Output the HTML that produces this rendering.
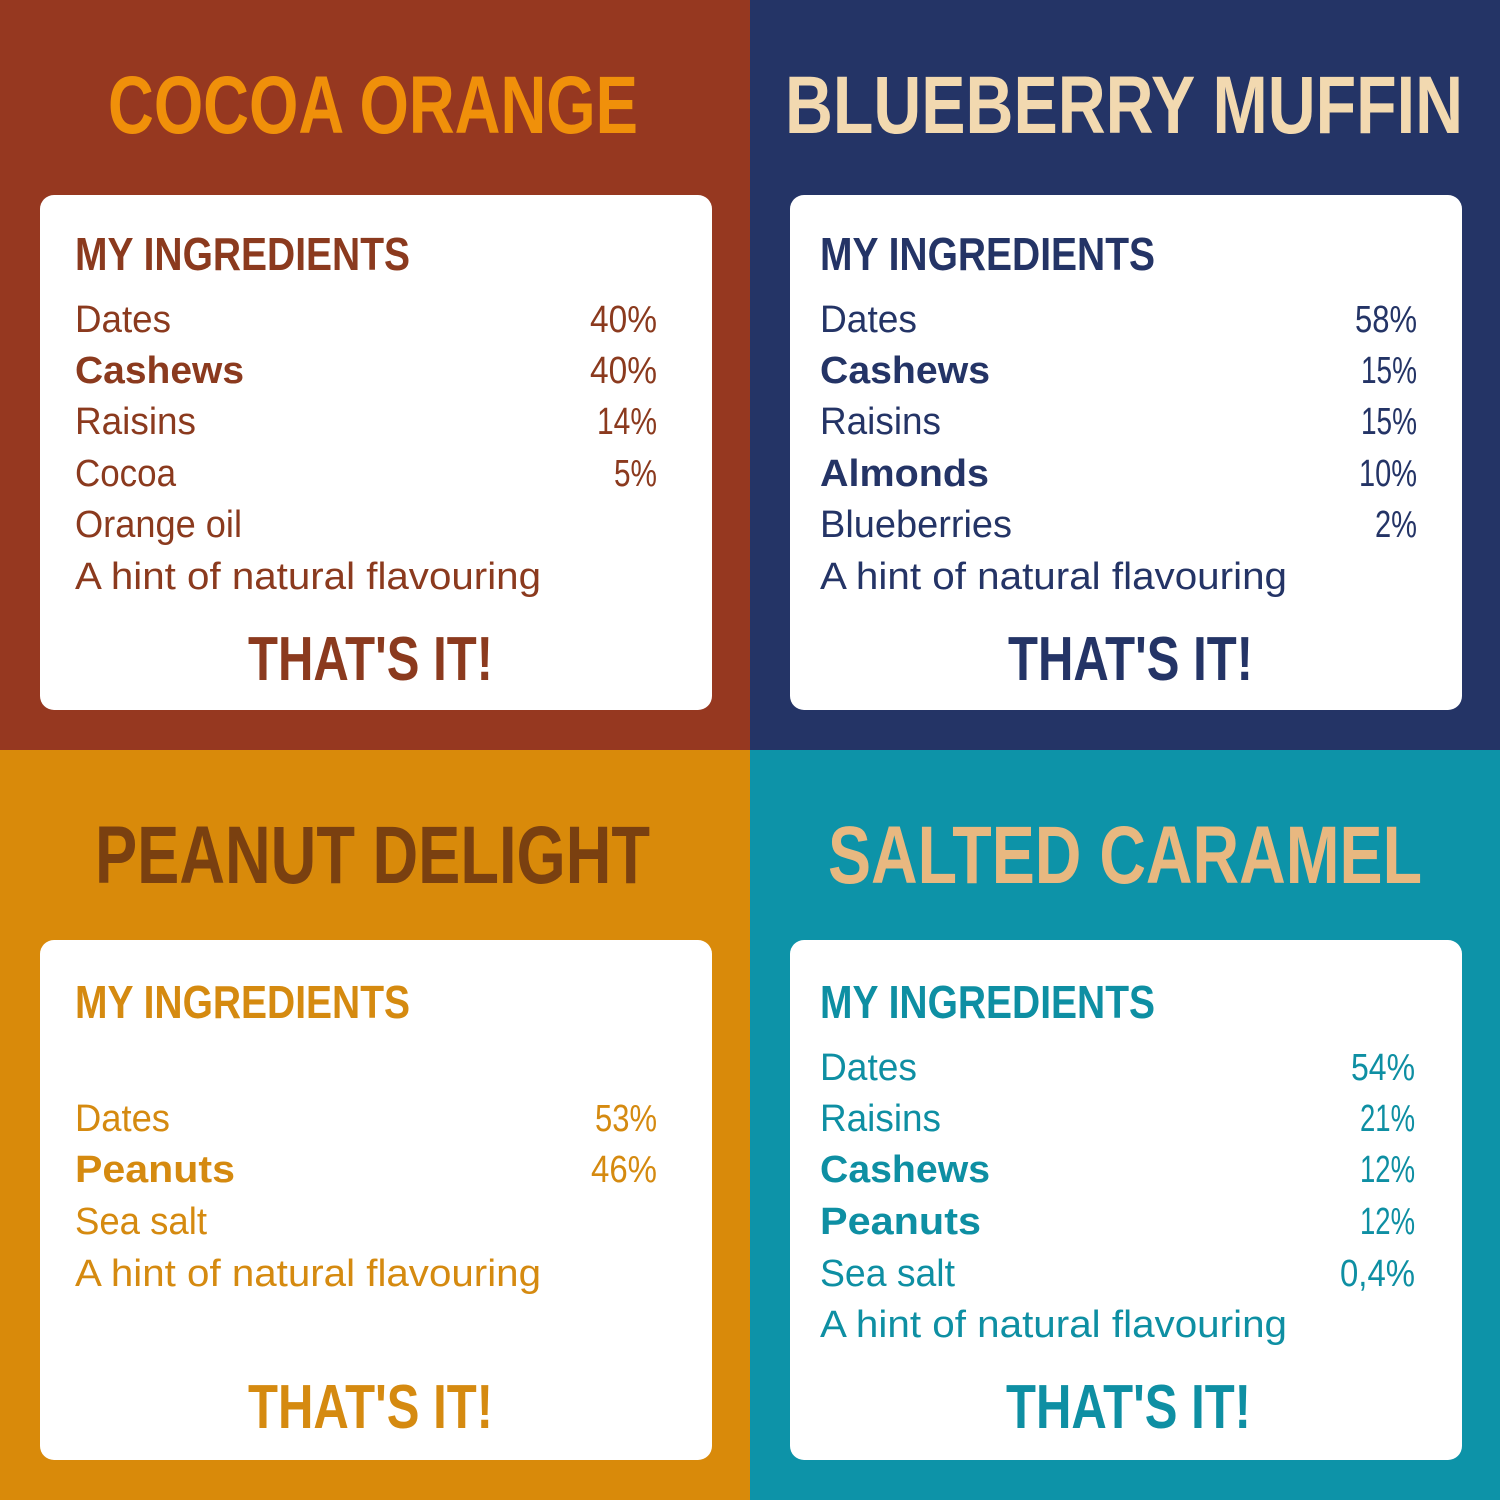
<!DOCTYPE html>
<html><head><meta charset="utf-8"><style>
html,body{margin:0;padding:0;width:1500px;height:1500px;overflow:hidden}
svg{display:block}
text{font-family:"Liberation Sans",sans-serif}
.t{font-weight:bold;font-size:82px}
.h{font-weight:bold;font-size:46px}
.i{font-size:38px}
.b{font-size:38px;font-weight:bold}
.p{font-size:38px;text-anchor:end}
.e{font-weight:bold;font-size:62px}
</style></head><body>
<svg width="1500" height="1500" viewBox="0 0 1500 1500" xmlns="http://www.w3.org/2000/svg">
<rect x="0" y="0" width="750" height="750" fill="#963820"/>
<rect x="750" y="0" width="750" height="750" fill="#243466"/>
<rect x="0" y="750" width="750" height="750" fill="#d98a0a"/>
<rect x="750" y="750" width="750" height="750" fill="#0d93a8"/>
<rect x="40" y="195" width="672" height="515" rx="14" fill="#fff"/>
<rect x="790" y="195" width="672" height="515" rx="14" fill="#fff"/>
<rect x="40" y="940" width="672" height="520" rx="14" fill="#fff"/>
<rect x="790" y="940" width="672" height="520" rx="14" fill="#fff"/>

<text class="t" x="108" y="133" fill="#f0900a" textLength="530" lengthAdjust="spacingAndGlyphs">COCOA ORANGE</text>
<g fill="#8b3a1e">
<text class="h" x="75" y="270" textLength="335" lengthAdjust="spacingAndGlyphs">MY INGREDIENTS</text>
<text class="i" x="75" y="332" textLength="96" lengthAdjust="spacingAndGlyphs">Dates</text>
<text class="b" x="75" y="383" textLength="169" lengthAdjust="spacingAndGlyphs">Cashews</text>
<text class="i" x="75" y="434" textLength="121" lengthAdjust="spacingAndGlyphs">Raisins</text>
<text class="i" x="75" y="486" textLength="101" lengthAdjust="spacingAndGlyphs">Cocoa</text>
<text class="i" x="75" y="537" textLength="167" lengthAdjust="spacingAndGlyphs">Orange oil</text>
<text class="i" x="75" y="589" textLength="466" lengthAdjust="spacingAndGlyphs">A hint of natural flavouring</text>
<text class="p" x="657" y="332" textLength="67" lengthAdjust="spacingAndGlyphs">40%</text>
<text class="p" x="657" y="383" textLength="67" lengthAdjust="spacingAndGlyphs">40%</text>
<text class="p" x="657" y="434" textLength="60" lengthAdjust="spacingAndGlyphs">14%</text>
<text class="p" x="657" y="486" textLength="43" lengthAdjust="spacingAndGlyphs">5%</text>
<text class="e" x="248" y="680" textLength="245" lengthAdjust="spacingAndGlyphs">THAT'S IT!</text>
</g>

<text class="t" x="785" y="133" fill="#f2d9b0" textLength="678" lengthAdjust="spacingAndGlyphs">BLUEBERRY MUFFIN</text>
<g fill="#243466">
<text class="h" x="820" y="270" textLength="335" lengthAdjust="spacingAndGlyphs">MY INGREDIENTS</text>
<text class="i" x="820" y="332" textLength="97" lengthAdjust="spacingAndGlyphs">Dates</text>
<text class="b" x="820" y="383" textLength="170" lengthAdjust="spacingAndGlyphs">Cashews</text>
<text class="i" x="820" y="434" textLength="121" lengthAdjust="spacingAndGlyphs">Raisins</text>
<text class="b" x="820" y="486" textLength="169" lengthAdjust="spacingAndGlyphs">Almonds</text>
<text class="i" x="820" y="537" textLength="192" lengthAdjust="spacingAndGlyphs">Blueberries</text>
<text class="i" x="820" y="589" textLength="467" lengthAdjust="spacingAndGlyphs">A hint of natural flavouring</text>
<text class="p" x="1417" y="332" textLength="62" lengthAdjust="spacingAndGlyphs">58%</text>
<text class="p" x="1417" y="383" textLength="56" lengthAdjust="spacingAndGlyphs">15%</text>
<text class="p" x="1417" y="434" textLength="56" lengthAdjust="spacingAndGlyphs">15%</text>
<text class="p" x="1417" y="486" textLength="58" lengthAdjust="spacingAndGlyphs">10%</text>
<text class="p" x="1417" y="537" textLength="42" lengthAdjust="spacingAndGlyphs">2%</text>
<text class="e" x="1008" y="680" textLength="245" lengthAdjust="spacingAndGlyphs">THAT'S IT!</text>
</g>

<text class="t" x="95" y="883" fill="#7a4010" textLength="555" lengthAdjust="spacingAndGlyphs">PEANUT DELIGHT</text>
<g fill="#d58a10">
<text class="h" x="75" y="1018" textLength="335" lengthAdjust="spacingAndGlyphs">MY INGREDIENTS</text>
<text class="i" x="75" y="1131" textLength="95" lengthAdjust="spacingAndGlyphs">Dates</text>
<text class="b" x="75" y="1182" textLength="160" lengthAdjust="spacingAndGlyphs">Peanuts</text>
<text class="i" x="75" y="1234" textLength="132" lengthAdjust="spacingAndGlyphs">Sea salt</text>
<text class="i" x="75" y="1286" textLength="466" lengthAdjust="spacingAndGlyphs">A hint of natural flavouring</text>
<text class="p" x="657" y="1131" textLength="62" lengthAdjust="spacingAndGlyphs">53%</text>
<text class="p" x="657" y="1182" textLength="66" lengthAdjust="spacingAndGlyphs">46%</text>
<text class="e" x="248" y="1428" textLength="245" lengthAdjust="spacingAndGlyphs">THAT'S IT!</text>
</g>

<text class="t" x="828" y="883" fill="#e8b880" textLength="594" lengthAdjust="spacingAndGlyphs">SALTED CARAMEL</text>
<g fill="#0e8fa3">
<text class="h" x="820" y="1018" textLength="335" lengthAdjust="spacingAndGlyphs">MY INGREDIENTS</text>
<text class="i" x="820" y="1080" textLength="97" lengthAdjust="spacingAndGlyphs">Dates</text>
<text class="i" x="820" y="1131" textLength="121" lengthAdjust="spacingAndGlyphs">Raisins</text>
<text class="b" x="820" y="1182" textLength="170" lengthAdjust="spacingAndGlyphs">Cashews</text>
<text class="b" x="820" y="1234" textLength="161" lengthAdjust="spacingAndGlyphs">Peanuts</text>
<text class="i" x="820" y="1286" textLength="135" lengthAdjust="spacingAndGlyphs">Sea salt</text>
<text class="i" x="820" y="1337" textLength="467" lengthAdjust="spacingAndGlyphs">A hint of natural flavouring</text>
<text class="p" x="1415" y="1080" textLength="64" lengthAdjust="spacingAndGlyphs">54%</text>
<text class="p" x="1415" y="1131" textLength="55" lengthAdjust="spacingAndGlyphs">21%</text>
<text class="p" x="1415" y="1182" textLength="55" lengthAdjust="spacingAndGlyphs">12%</text>
<text class="p" x="1415" y="1234" textLength="55" lengthAdjust="spacingAndGlyphs">12%</text>
<text class="p" x="1415" y="1286" textLength="75" lengthAdjust="spacingAndGlyphs">0,4%</text>
<text class="e" x="1006" y="1428" textLength="245" lengthAdjust="spacingAndGlyphs">THAT'S IT!</text>
</g>
</svg>
</body></html>
